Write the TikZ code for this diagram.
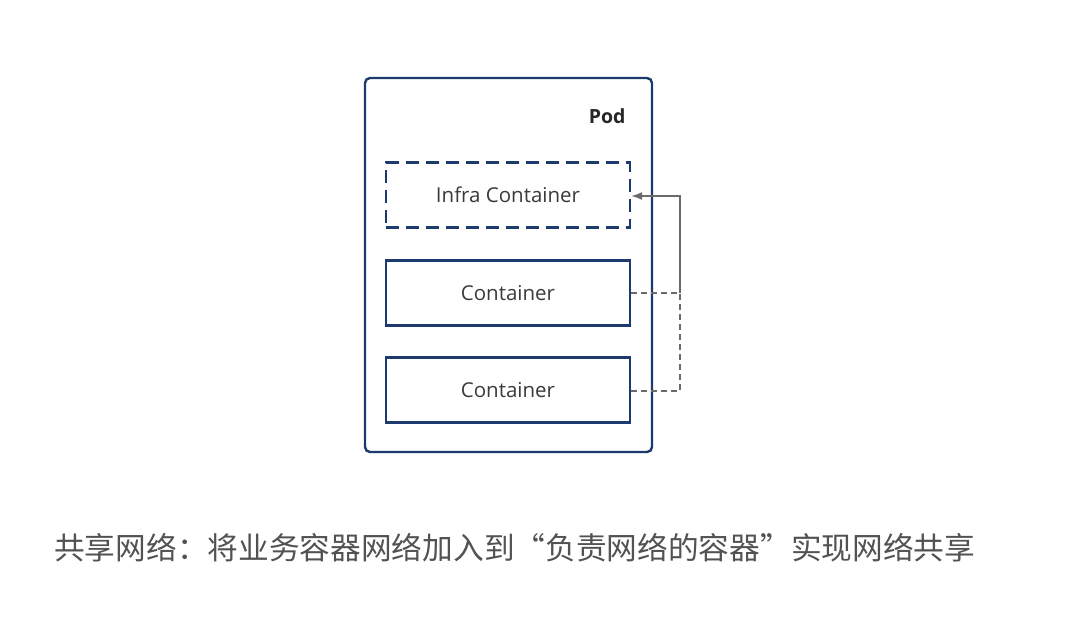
\documentclass[tikz,border=0pt]{standalone}
\usepackage{fontspec}
\setmainfont{Open Sans}
\newfontfamily\cjk{Noto Sans CJK SC}
\usetikzlibrary{arrows.meta}
\definecolor{navy}{HTML}{1C3A6E}
\definecolor{conn}{HTML}{6A6A6A}
\definecolor{txt}{HTML}{3A3A3A}
\begin{document}
\begin{tikzpicture}[x=1pt,y=-1pt,
  box/.style={draw=navy,line width=2.4pt,minimum width=244pt,minimum height=65pt,inner sep=0pt,text=txt,font=\fontsize{20.5}{24}\selectfont},
  link/.style={draw=conn,line width=1.4pt},
  dlink/.style={link,dash pattern=on 6pt off 4pt}]
\useasboundingbox (0,0) rectangle (1076,630);
\node[draw=navy,line width=2.4pt,rounded corners=5pt,minimum width=287pt,minimum height=374pt,inner sep=0pt] (pod) at (508.5,265) {};
\node[font=\bfseries\fontsize{19.5}{22}\selectfont,text=black!85,anchor=east] (podl) at (629,116) {Pod};
\node[box,dash pattern=on 13pt off 7pt] (infra) at (508,195) {Infra Container};
\node[box] (c1) at (508,293) {Container};
\node[box] (c2) at (508,390) {Container};
\coordinate (t) at (680,196);
\coordinate (m) at (680,293);
\coordinate (b) at (680,391);
\draw[link,-{Latex[length=11pt,width=8pt]}] (m) -- (t) -- (infra.east |- t);
\draw[dlink] (c1.east |- m) -- (m);
\draw[dlink] (c2.east |- b) -- (b) -- (m);
\node[anchor=west,text=black!68,font=\cjk\fontsize{30.7}{34}\selectfont,inner sep=0pt] (cap) at (54,548) {共享网络：将业务容器网络加入到“负责网络的容器”实现网络共享};
\end{tikzpicture}
\end{document}
